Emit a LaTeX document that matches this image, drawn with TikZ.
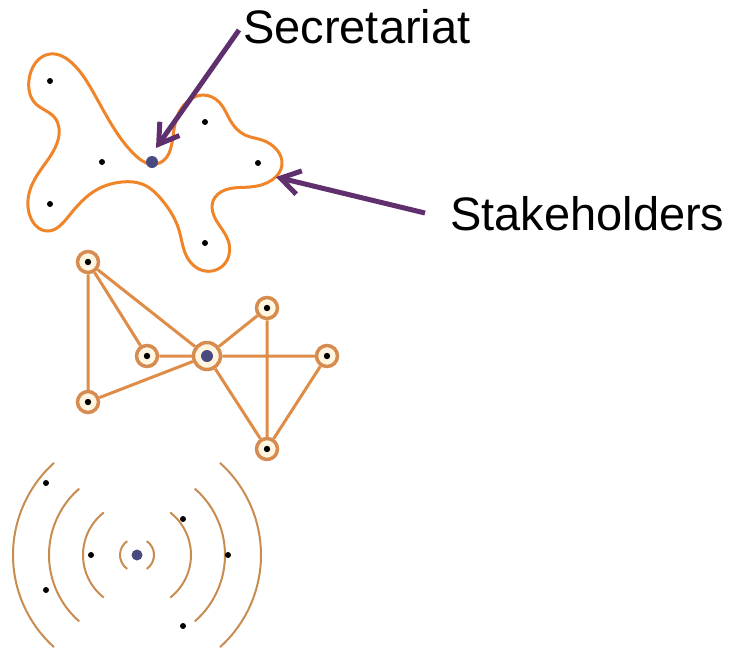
\documentclass[tikz,border=0pt]{standalone}
\usepackage{fontspec}
\setmainfont{Liberation Sans}
\usetikzlibrary{arrows.meta,hobby}
\definecolor{blobor}{RGB}{240,132,40}
\definecolor{edgeor}{RGB}{222,140,70}
\definecolor{ringor}{RGB}{214,140,80}
\definecolor{arcor}{RGB}{200,140,80}
\definecolor{cream}{RGB}{255,246,225}
\definecolor{arrowpurple}{RGB}{96,48,110}
\definecolor{secblue}{RGB}{72,74,128}
\tikzset{
  dotnode/.style={circle,fill=black,inner sep=0pt,minimum size=6pt},
  secnode/.style={circle,fill=secblue,inner sep=0pt,minimum size=12pt},
  stake/.style={circle,draw=ringor,line width=3.5pt,fill=cream,inner sep=0pt,minimum size=21pt,
    path picture={\fill[black] (path picture bounding box.center) circle (3.2pt);}},
  hub/.style={circle,draw=ringor,line width=3.5pt,fill=cream,inner sep=0pt,minimum size=27pt,
    path picture={\fill[secblue] (path picture bounding box.center) circle (6pt);}},
  edge/.style={draw=edgeor,line width=3pt},
  ripple/.style={draw=arcor,line width=2pt},
  pointer/.style={draw=arrowpurple,line width=5pt,-{Straight Barb[length=19pt,width=24pt,line width=5pt]}},
  lab/.style={inner sep=0pt,font=\fontsize{47}{56}\selectfont},
}
\begin{document}
\begin{tikzpicture}[x=1pt,y=-1pt]
\useasboundingbox (0,0) rectangle (736,649);
% ---- blob ----
\draw[blobor,line width=3pt,use Hobby shortcut,closed=true]
 (50,54) .. (72,63) .. (92,90) .. (115,130) .. (135,155) .. (150,164) .. (163,161)
 .. (172,143) .. (177,117) .. (188,101) .. (203,95) .. (220,103) .. (230,120)
 .. (245,135) .. (262,140) .. (277,150) .. (282,165) .. (272,180) .. (250,187)
 .. (225,190) .. (213,201) .. (216,220) .. (228,240) .. (226,262) .. (205,271)
 .. (187,257) .. (179,230) .. (162,200) .. (142,184) .. (122,182) .. (98,189)
 .. (68,217) .. (47,231) .. (30,216) .. (30,190) .. (42,168) .. (58,140)
 .. (55,118) .. (35,103) .. (29,80);
\node[dotnode] (s1) at (50,81) {};
\node[dotnode] (s2) at (205,122) {};
\node[dotnode] (s3) at (102,162) {};
\node[dotnode] (s4) at (258,163) {};
\node[dotnode] (s5) at (50,204) {};
\node[dotnode] (s6) at (205,243) {};
\node[secnode] (sec) at (152,162) {};
\coordinate (secTip) at (156,148);
\coordinate (stkTip) at (276,177);
\node[lab,anchor=base west] (secLab) at (243,43) {Secretariat};
\node[lab,anchor=base west] (stkLab) at (450,230) {Stakeholders};
\draw[pointer] (239,30) -- (secTip);
\draw[pointer] (425,213) -- (stkTip);
% ---- network ----
\node[stake] (A) at (88,262) {};
\node[stake] (B) at (147,356) {};
\node[hub]   (C) at (207,356) {};
\node[stake] (D) at (267,308) {};
\node[stake] (E) at (327,356) {};
\node[stake] (F) at (88,402) {};
\node[stake] (G) at (267,449) {};
\path[edge] (A) -- (F) (A) -- (B) (A) -- (C) (F) -- (C) (B) -- (C)
  (C) -- (D) (C) -- (E) (D) -- (G) (C) -- (G) (E) -- (G);
% ---- ripples ----
\node[secnode,minimum size=11pt] (core) at (137,555) {};
\draw[ripple] (core.center) ++(125:17) arc (125:235:17);
\draw[ripple] (core.center) ++(55:17) arc (55:-55:17);
\draw[ripple] (core.center) ++(128:54) arc (128:232:54);
\draw[ripple] (core.center) ++(52:54) arc (52:-52:54);
\draw[ripple] (core.center) ++(131:88) arc (131:229:88);
\draw[ripple] (core.center) ++(49:88) arc (49:-49:88);
\draw[ripple] (core.center) ++(132:124) arc (132:228:124);
\draw[ripple] (core.center) ++(48:124) arc (48:-48:124);
\node[dotnode] (r1) at (46,483) {};
\node[dotnode] (r2) at (183,519) {};
\node[dotnode] (r3) at (91,555) {};
\node[dotnode] (r4) at (228,555) {};
\node[dotnode] (r5) at (46,590) {};
\node[dotnode] (r6) at (183,626) {};
\end{tikzpicture}
\end{document}
